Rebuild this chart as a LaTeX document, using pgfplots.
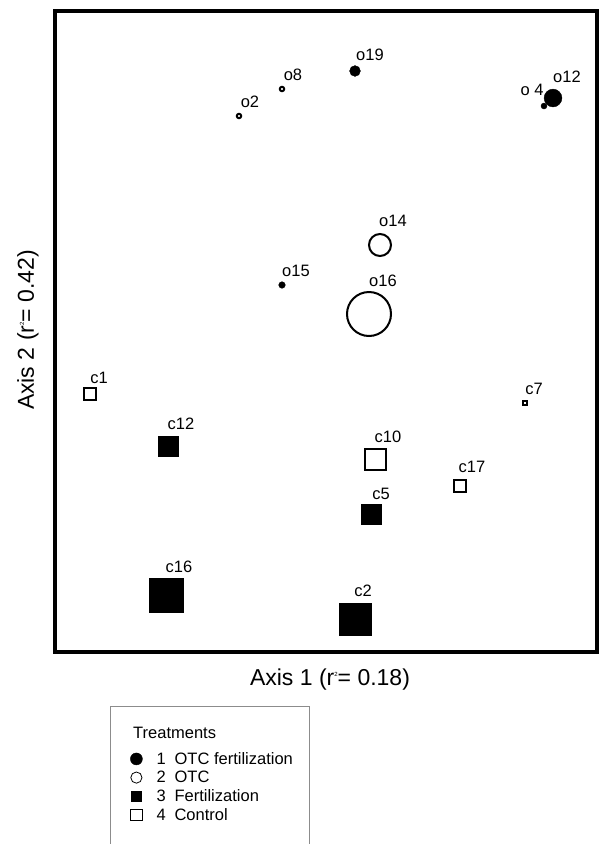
\documentclass[border=0pt]{standalone}
\usepackage{pgfplots}
\pgfplotsset{compat=1.18}
\usepackage{fontspec}
\setmainfont{Liberation Sans}
\begin{document}
\begin{tikzpicture}[x=1pt,y=1pt]
\path[use as bounding box] (0,0) rectangle (599,844);
\begin{axis}[
  at={(326pt,513pt)}, anchor=center,
  scale only axis, width=542pt, height=641pt,
  xmin=55, xmax=597, ymin=10.5, ymax=651.5, y dir=reverse,
  xtick=\empty, ytick=\empty,
  axis line style={line width=4pt},
  clip=false,
  xlabel={Axis 1 (r\raisebox{0.8ex}{\fontsize{6}{6}\selectfont 2}= 0.18)},
  ylabel={Axis 2 (r\raisebox{0.8ex}{\fontsize{6}{6}\selectfont 2}= 0.42)},
  xlabel style={at={(axis cs:330,680)}, anchor=center, font=\fontsize{23}{27}\selectfont},
  ylabel style={at={(axis cs:28,330)}, anchor=center, font=\fontsize{23}{27}\selectfont},
  legend cell align=left,
  legend style={at={(axis cs:130,787)}, anchor=west, draw=none, fill=none,
    inner sep=0pt, row sep=5.4pt, font=\fontsize{16.5}{18}\selectfont,
    nodes={inner sep=0pt}},
]
% OTC fertilization (filled circles)
\addplot[scatter, only marks, mark=*, forget plot,
  scatter/use mapped color={draw=black, fill=black},
  visualization depends on={\thisrow{r} \as \rr},
  scatter/@pre marker code/.append style={/tikz/mark size=\rr}]
  table {
x y r
355 71 5.4
553 98 8.9
544 106 3
282 285 3.3
};
% OTC (open circles)
\addplot[scatter, only marks, mark=*, forget plot,
  scatter/use mapped color={draw=black, fill=white},
  mark options={line width=2pt},
  visualization depends on={\thisrow{r} \as \rr},
  scatter/@pre marker code/.append style={/tikz/mark size=\rr}]
  table {
x y r
239 116 2.2
282 89 2.2
380 245 11
369 314 22
};
% Fertilization (filled squares)
\addplot[scatter, only marks, mark=square*, forget plot,
  scatter/use mapped color={draw=black, fill=black},
  visualization depends on={\thisrow{r} \as \rr},
  scatter/@pre marker code/.append style={/tikz/mark size=\rr}]
  table {
x y r
168 446 9.8
371 514 9.8
166 595 16.8
355 619 16.3
};
% Control (open squares)
\addplot[scatter, only marks, mark=square*, forget plot,
  scatter/use mapped color={draw=black, fill=white},
  mark options={line width=2pt},
  visualization depends on={\thisrow{r} \as \rr},
  scatter/@pre marker code/.append style={/tikz/mark size=\rr}]
  table {
x y r
90 394 6
375 459 10.5
460 486 6.2
525 403 2
};
% point labels
\addplot[only marks, mark=none, forget plot,
  nodes near coords, point meta=explicit symbolic,
  every node near coord/.append style={anchor=center, inner sep=0pt, font=\fontsize{16.5}{18}\selectfont}]
  table[meta=label] {
x y label
370 55 o19
293 75 o8
250 102 o2
532 90 o~4
567 77 o12
393 221 o14
296 271 o15
383 281 o16
99 378 c1
181 424 c12
388 437 c10
381 494 c5
472 467 c17
534 389 c7
179 567 c16
363 591 c2
};
\addlegendimage{legend image code/.code={\fill[black] (6.5pt,0pt) circle (6pt);}}
\addlegendentry{\hspace{14pt}\makebox[18pt][l]{1}OTC fertilization}
\addlegendimage{legend image code/.code={\draw[black, line width=0.8pt, fill=white] (6.5pt,0pt) circle (5.6pt);}}
\addlegendentry{\hspace{14pt}\makebox[18pt][l]{2}OTC}
\addlegendimage{legend image code/.code={\fill[black] (1pt,-5.3pt) rectangle (11.6pt,5.3pt);}}
\addlegendentry{\hspace{14pt}\makebox[18pt][l]{3}Fertilization}
\addlegendimage{legend image code/.code={\draw[black, line width=0.8pt, fill=white] (0.8pt,-5.8pt) rectangle (12.2pt,5.8pt);}}
\addlegendentry{\hspace{14pt}\makebox[18pt][l]{4}Control}
\node[anchor=west, inner sep=0pt, font=\fontsize{16.5}{18}\selectfont] at (axis cs:133,733) {Treatments};
\draw[black!45, line width=1pt] (axis cs:111,860) |- (axis cs:309,706) -- (axis cs:309,860);
\end{axis}
\end{tikzpicture}
\end{document}
